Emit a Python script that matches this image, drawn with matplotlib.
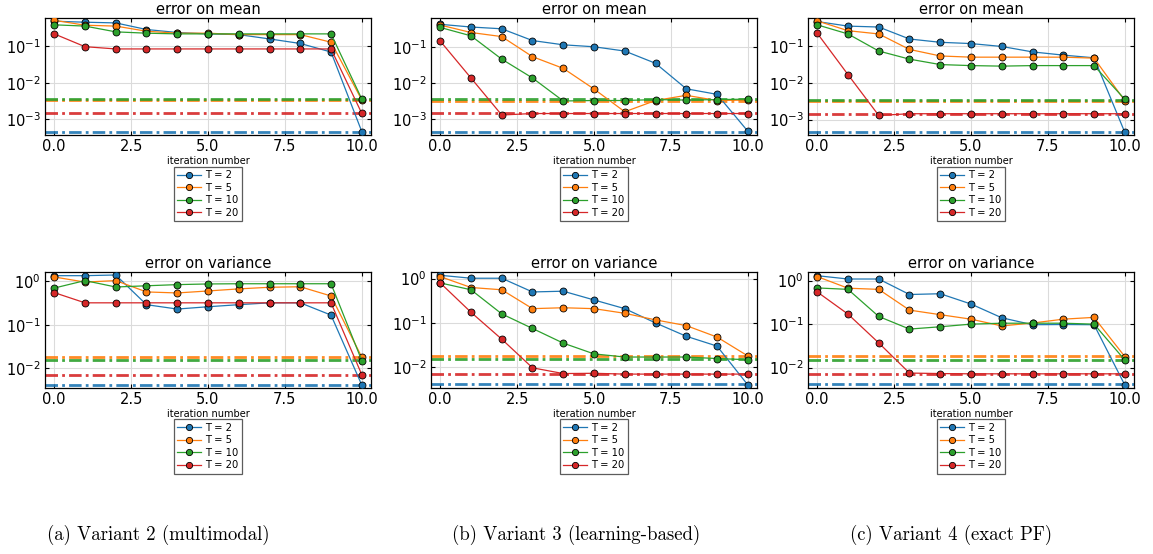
import numpy as np
import matplotlib.pyplot as plt
from matplotlib.ticker import FixedLocator, FormatStrFormatter, NullLocator

plt.rcParams['lines.scale_dashes'] = False

iters = list(range(11))
labels = ['T = 2', 'T = 5', 'T = 10', 'T = 20']
colors = ['#1f77b4', '#ff7f0e', '#2ca02c', '#d62728']
captions = ['(a) Variant 2 (multimodal)', '(b) Variant 3 (learning-based)', '(c) Variant 4 (exact PF)']

# reference error levels (dash-dot lines), same in all variants
ref_mean = [4.5e-4, 3.3e-3, 3.55e-3, 1.45e-3]
ref_var = [4.1e-3, 1.82e-2, 1.51e-2, 7.1e-3]

# variant 2 (multimodal)
mean_v2 = [
    [0.49, 0.46, 0.44, 0.29, 0.24, 0.22, 0.21, 0.16, 0.12, 0.07, 4.6e-4],
    [0.52, 0.38, 0.36, 0.26, 0.23, 0.23, 0.21, 0.21, 0.21, 0.13, 3.4e-3],
    [0.39, 0.36, 0.25, 0.23, 0.22, 0.22, 0.22, 0.22, 0.22, 0.22, 3.6e-3],
    [0.22, 0.098, 0.085, 0.085, 0.085, 0.085, 0.085, 0.085, 0.085, 0.085, 1.45e-3],
]
var_v2 = [
    [1.35, 1.35, 1.4, 0.29, 0.23, 0.26, 0.29, 0.32, 0.32, 0.167, 4.1e-3],
    [1.26, 0.96, 1.04, 0.57, 0.54, 0.60, 0.67, 0.73, 0.75, 0.46, 1.8e-2],
    [0.70, 1.04, 0.74, 0.79, 0.84, 0.87, 0.88, 0.88, 0.88, 0.88, 1.5e-2],
    [0.55, 0.32, 0.32, 0.32, 0.32, 0.32, 0.32, 0.32, 0.32, 0.32, 7.1e-3],
]

# variant 3 (learning-based)
mean_v3 = [
    [0.44, 0.37, 0.33, 0.155, 0.118, 0.104, 0.079, 0.036, 7.0e-3, 4.9e-3, 4.6e-4],
    [0.42, 0.26, 0.20, 0.055, 0.026, 6.9e-3, 1.6e-3, 3.3e-3, 4.6e-3, 3.3e-3, 3.4e-3],
    [0.36, 0.21, 0.047, 0.014, 3.2e-3, 3.3e-3, 3.3e-3, 3.5e-3, 3.4e-3, 3.5e-3, 3.6e-3],
    [0.15, 0.014, 1.3e-3, 1.43e-3, 1.43e-3, 1.43e-3, 1.43e-3, 1.43e-3, 1.43e-3, 1.43e-3, 1.43e-3],
]
var_v3 = [
    [1.19, 1.02, 1.02, 0.50, 0.52, 0.33, 0.21, 0.10, 0.050, 0.030, 4.0e-3],
    [1.11, 0.63, 0.56, 0.21, 0.22, 0.21, 0.165, 0.117, 0.087, 0.048, 1.8e-2],
    [0.80, 0.56, 0.16, 0.075, 0.035, 0.020, 0.017, 0.017, 0.017, 0.0157, 0.0148],
    [0.80, 0.174, 0.043, 9.7e-3, 7.2e-3, 7.3e-3, 7.0e-3, 7.0e-3, 7.0e-3, 7.0e-3, 7.0e-3],
]

# variant 4 (exact PF)
mean_v4 = [
    [0.48, 0.36, 0.34, 0.16, 0.13, 0.12, 0.10, 0.071, 0.058, 0.049, 4.5e-4],
    [0.50, 0.27, 0.22, 0.083, 0.055, 0.051, 0.051, 0.051, 0.051, 0.048, 3.3e-3],
    [0.39, 0.22, 0.075, 0.045, 0.032, 0.030, 0.029, 0.030, 0.030, 0.030, 3.6e-3],
    [0.23, 0.017, 1.3e-3, 1.45e-3, 1.45e-3, 1.45e-3, 1.45e-3, 1.45e-3, 1.45e-3, 1.45e-3, 1.45e-3],
]
var_v4 = [
    [1.30, 1.09, 1.09, 0.48, 0.50, 0.29, 0.14, 0.097, 0.098, 0.097, 4.0e-3],
    [1.24, 0.67, 0.63, 0.21, 0.165, 0.13, 0.091, 0.106, 0.13, 0.143, 1.8e-2],
    [0.68, 0.63, 0.15, 0.077, 0.087, 0.10, 0.105, 0.105, 0.105, 0.10, 1.5e-2],
    [0.55, 0.17, 0.037, 7.5e-3, 7.3e-3, 7.2e-3, 7.2e-3, 7.2e-3, 7.2e-3, 7.2e-3, 7.2e-3],
]

W, H = 1153, 554
fig = plt.figure(figsize=(W / 100, H / 100), dpi=100)

lefts = [45, 431, 808]
width = 326


def panel(x0, top, bottom, series, ref, ylim, title):
    ax = fig.add_axes([x0 / W, 1 - bottom / H, width / W, (bottom - top) / H])
    for vals, r, c, lab in zip(series, ref, colors, labels):
        ax.axhline(r, color=c, lw=2.0, alpha=0.9, dashes=(9, 3, 2, 3), zorder=2)
        ax.plot(iters, vals, color=c, lw=0.9, marker='o', ms=5,
                mec='black', mew=0.6, label=lab, zorder=3)
    ax.set_yscale('log')
    ax.set_xlim(-0.3, 10.3)
    ax.set_ylim(*ylim)
    ax.yaxis.set_minor_locator(NullLocator())
    ax.xaxis.set_major_locator(FixedLocator([0, 2.5, 5, 7.5, 10]))
    ax.xaxis.set_major_formatter(FormatStrFormatter('%.1f'))
    ax.tick_params(direction='in', top=True, right=True, length=3, width=0.8,
                   labelsize=10.5, pad=3)
    ax.grid(True, color='0.86', lw=0.8)
    ax.set_axisbelow(True)
    for s in ax.spines.values():
        s.set_linewidth(0.9)
    ax.set_title(title, fontsize=10.5, pad=3)
    ax.set_xlabel('iteration number', fontsize=7, labelpad=1)
    leg = ax.legend(loc='upper center', bbox_to_anchor=(0.5, -0.27), fontsize=7.2,
                    frameon=True, fancybox=False, edgecolor='0.2',
                    handlelength=2.4, handletextpad=0.4, labelspacing=0.25,
                    borderpad=0.35, borderaxespad=0, markerscale=0.9)
    leg.get_frame().set_linewidth(0.9)
    return ax


means = [mean_v2, mean_v3, mean_v4]
vars_ = [var_v2, var_v3, var_v4]
mean_ylims = [(3.7e-4, 0.60), (3.6e-4, 0.66), (3.8e-4, 0.60)]
var_ylims = [(3.5e-3, 1.64), (3.4e-3, 1.41), (3.4e-3, 1.58)]

for i in range(3):
    panel(lefts[i], 18, 135, means[i], ref_mean, mean_ylims[i], 'error on mean')
    panel(lefts[i], 272, 388, vars_[i], ref_var, var_ylims[i], 'error on variance')

cap_x = [158, 576, 951]
for cx, cap in zip(cap_x, captions):
    fig.text(cx / W, 1 - 535 / H, cap, ha='center', va='center',
             fontsize=13.5, family='cmr10')

fig.savefig('out.png', dpi=100)
